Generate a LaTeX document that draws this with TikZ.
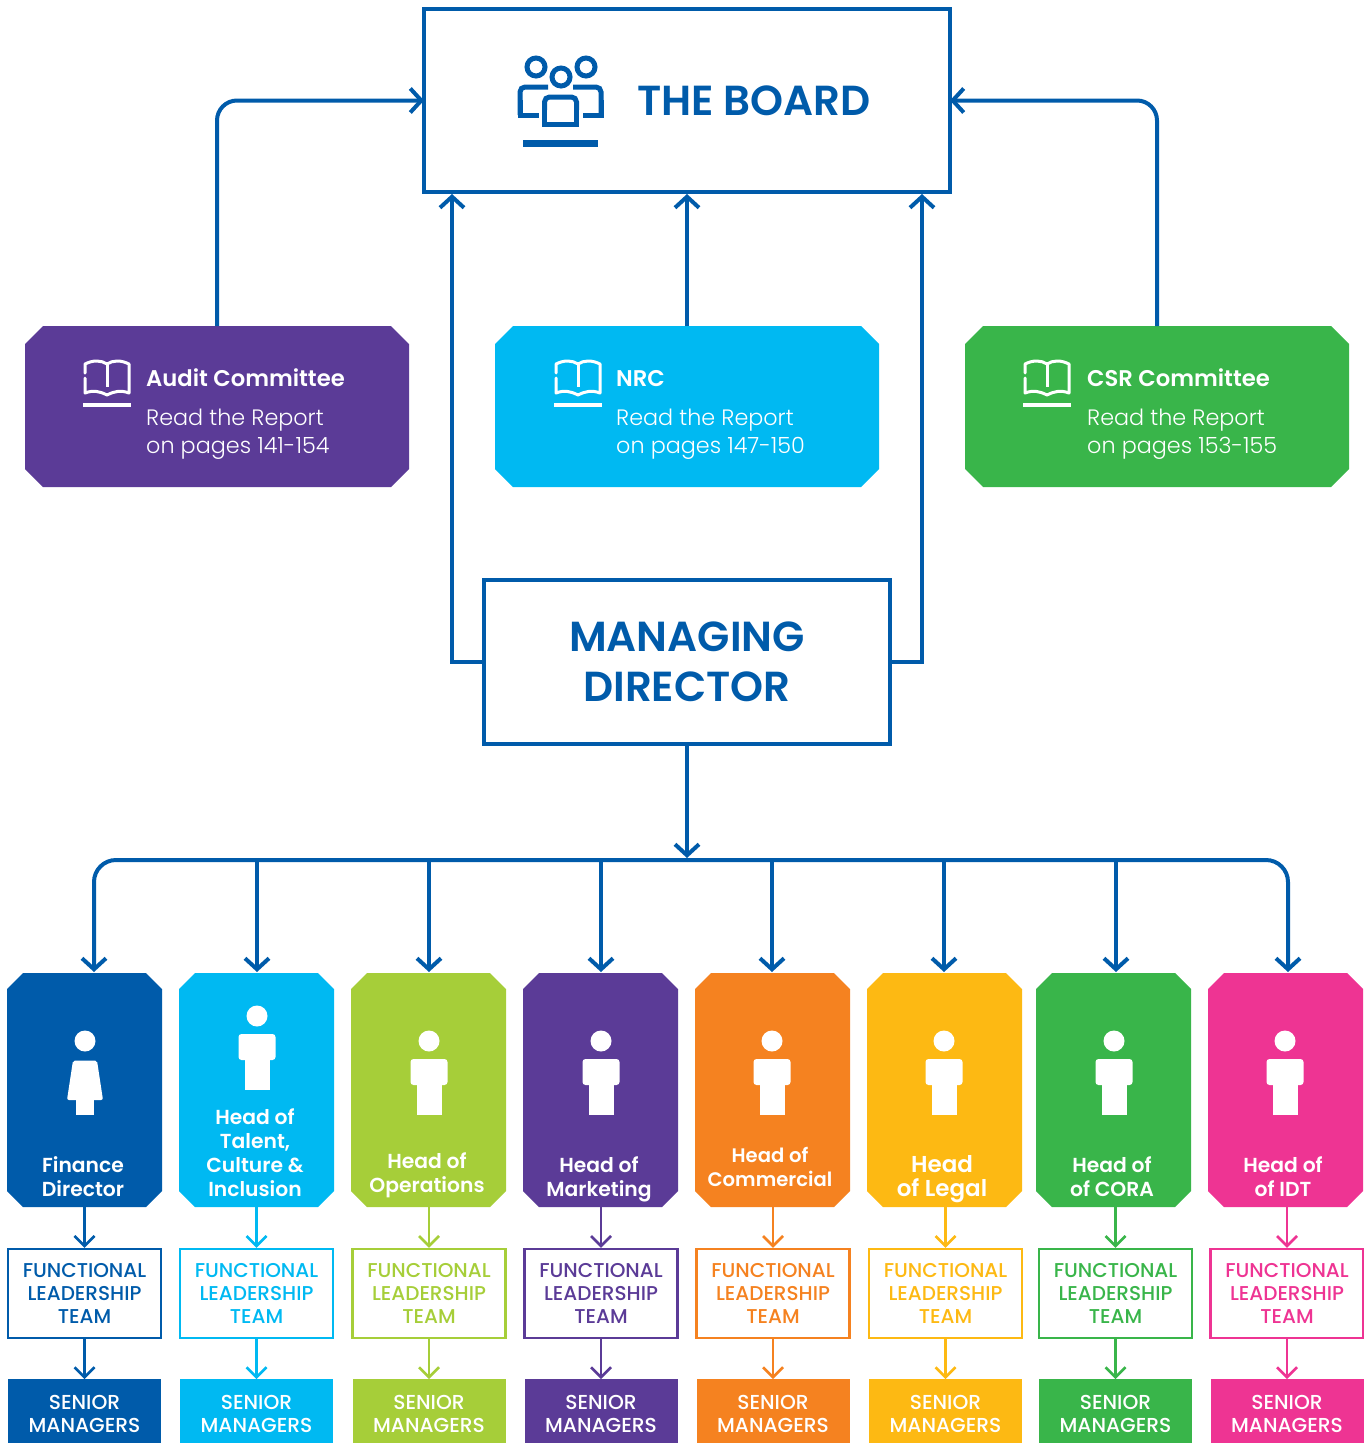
\documentclass[tikz,border=0pt]{standalone}
\usepackage{fontspec}
\setmainfont{Poppins}
\newfontfamily\lightfont{Poppins Light}
\newfontfamily\mediumfont{Poppins Medium}
\newfontfamily\semifont{Poppins SemiBold}
\usetikzlibrary{arrows.meta}
\definecolor{bdblue}{HTML}{005BAA}
\definecolor{bdcyan}{HTML}{00B9F2}
\definecolor{bdlime}{HTML}{A6CE39}
\definecolor{bdpurple}{HTML}{5B3B97}
\definecolor{bdorange}{HTML}{F58220}
\definecolor{bdyellow}{HTML}{FDB913}
\definecolor{bdgreen}{HTML}{39B54A}
\definecolor{bdpink}{HTML}{EE3493}
\newcommand{\chamferfill}[3]{\fill[#3] ([xshift=#2pt]#1.north west) -- ([xshift=-#2pt]#1.north east) -- ([yshift=-#2pt]#1.north east) -- ([yshift=#2pt]#1.south east) -- ([xshift=-#2pt]#1.south east) -- ([xshift=#2pt]#1.south west) -- ([yshift=#2pt]#1.south west) -- ([yshift=-#2pt]#1.north west) -- cycle;}
\tikzset{mainbox/.style = {draw=bdblue, rectangle, line width=4pt, inner sep=0pt}}
\tikzset{maintext/.style = {text=bdblue, font=\fontsize{42}{50}\selectfont\semifont, align=center, inner sep=0pt}}
\tikzset{committee/.style = {rectangle, minimum width=384pt, minimum height=161pt, inner sep=0pt, outer sep=0pt}}
\tikzset{headbox/.style = {rectangle, minimum width=155pt, minimum height=234pt, inner sep=0pt, outer sep=0pt}}
\tikzset{teambox/.style = {draw, rectangle, line width=2.5pt, minimum width=153pt, minimum height=89pt, inner sep=0pt, align=center, font=\fontsize{20}{23}\selectfont\mediumfont}}
\tikzset{managers/.style = {rectangle, minimum width=153pt, minimum height=64pt, inner sep=0pt, outer sep=0pt}}
\tikzset{mgrtext/.style = {text=white, align=center, inner sep=0pt, font=\fontsize{20.2}{23}\selectfont\mediumfont}}
\tikzset{headtext/.style = {text=white, anchor=base, inner sep=0pt, align=center}}
\tikzset{commtitle/.style = {text=white, anchor=base west, inner sep=0pt, font=\fontsize{22.7}{27}\selectfont\semifont}}
\tikzset{commtext/.style = {text=white, anchor=base west, inner sep=0pt, font=\fontsize{22.3}{27}\selectfont\lightfont}}
\tikzset{flow/.style = {draw=bdblue, line width=4pt, -{Straight Barb[length=11pt, width=24pt]}}}
\tikzset{down/.style = {line width=2.5pt, -{Straight Barb[length=10pt, width=20pt]}}}
\tikzset{book/.pic = {
  \draw[white, line width=3pt, line cap=round, line join=round] (-22,-5) -- (-22,-14) .. controls (-14,-18) and (-6,-18) .. (0,-14) .. controls (6,-18) and (14,-18) .. (22,-14) -- (22,15) .. controls (14,12) and (8,13) .. (0,17) .. controls (-8,13) and (-14,12) .. (-22,15) -- (-22,0);
  \draw[white, line width=3pt] (0,-14) -- (0,9);
  \fill[white] (-24,25) rectangle (24,29);
}}
\tikzset{man/.pic = {
  \fill[white] (0,0) circle (10.5);
  \fill[white, rounded corners=3pt] (-18.5,18) -- (18.5,18) -- (18.5,44) -- (-18.5,44) -- cycle;
  \fill[white] (-12.5,30) rectangle (12.5,74);
}}
\tikzset{woman/.pic = {
  \fill[white] (0,0) circle (10.5);
  \fill[white, rounded corners=2pt] (-12,19.5) -- (12,19.5) -- (18,59) -- (-18,59) -- cycle;
  \fill[white] (-9,50) rectangle (9,74);
}}

\begin{document}
\begin{tikzpicture}[x=1pt, y=-1pt]
  \useasboundingbox (0,0) rectangle (1364,1443);

  \node [mainbox, outer sep=0pt, minimum width=526pt, minimum height=183pt] (board) at (687,100.5) {};
  \node [maintext, anchor=base west] (boardtext) at (637,115) {THE BOARD};
  \draw[bdblue, line width=5pt] (536,67) circle (9) (586,67) circle (9) (561,77) circle (9);
  \draw[bdblue, line width=5pt, rounded corners=5pt] (548,87) -- (520,87) -- (520,115);
  \draw[bdblue, line width=5pt] (520,100) -- (520,115) -- (539,115);
  \draw[bdblue, line width=5pt, rounded corners=5pt] (573,87) -- (601,87) -- (601,115);
  \draw[bdblue, line width=5pt] (601,100) -- (601,115) -- (583,115);
  \draw[bdblue, line width=5pt, rounded corners=5pt] (544.5,110) -- (544.5,97) -- (576.5,97) -- (576.5,110);
  \draw[bdblue, line width=5pt] (544.5,105) -- (544.5,124.5) -- (576.5,124.5) -- (576.5,105);
  \fill[bdblue] (523,140) rectangle (598,147);

  \node [committee] (audit) at (217,406.5) {};
  \node [committee] (nrc) at (687,406.5) {};
  \node [committee] (csr) at (1157,406.5) {};
  \chamferfill{audit}{18}{bdpurple}
  \chamferfill{nrc}{18}{bdcyan}
  \chamferfill{csr}{18}{bdgreen}
  \pic at (107,378) {book};
  \pic at (578,378) {book};
  \pic at (1047,378) {book};
  \node [commtitle] (audittitle) at (146,386) {Audit Committee};
  \node [commtext] (audittext) at (146,425.5) {Read the Report};
  \node [commtext] (auditpages) at (146,453) {on pages 141-154};
  \node [commtitle] (nrctitle) at (616,386) {NRC};
  \node [commtext] (nrctext) at (616,425.5) {Read the Report};
  \node [commtext] (nrcpages) at (616,453) {on pages 147-150};
  \node [commtitle] (csrtitle) at (1087,386) {CSR Committee};
  \node [commtext] (csrtext) at (1087,425.5) {Read the Report};
  \node [commtext] (csrpages) at (1087,453) {on pages 153-155};

  \node [mainbox, minimum width=406pt, minimum height=164pt] (md) at (687,662) {};
  \node [maintext] (mdtext) at (687,662) {MANAGING\\DIRECTOR};

  \coordinate (boardl) at (452,194);
  \coordinate (boardm) at (687,194);
  \coordinate (boardr) at (922,194);
  \coordinate (split) at (687,858);
  \coordinate (hub) at (687,860);
  \draw[flow, rounded corners=20pt] (audit.north) |- (board.west);
  \draw[flow, rounded corners=20pt] (csr.north) |- (board.east);
  \draw[flow] (nrc.north) -- (boardm);
  \draw[flow] (md.west) -| (boardl);
  \draw[flow] (md.east) -| (boardr);
  \draw[flow] (md.south) -- (split);

  \foreach \i/\cx/\bx/\fx/\col/\tx/\ty/\fs/\lab in {
    1/84.5/94/84.5/bdblue/83/1196/20.3/{Finance\\Director},
    2/256.5/257/256.5/bdcyan/255/1196/20.3/{Head of\\Talent,\\Culture \&\\Inclusion},
    3/428.5/429/429/bdlime/427/1192/20.3/{Head of\\Operations},
    4/600.5/601/601/bdpurple/599/1196/20.3/{Head of\\Marketing},
    5/772.5/772/773/bdorange/770/1186/19.6/{Head of\\Commercial},
    6/944.5/944/945.5/bdyellow/942/1196/23/{Head\\of Legal},
    7/1113.5/1116/1115.5/bdgreen/1112/1196/20.3/{Head of\\of CORA},
    8/1285.5/1288/1287/bdpink/1283/1196/20.3/{Head of\\of IDT}} {
    \node [headbox] (head\i) at (\cx,1090) {};
    \chamferfill{head\i}{16}{\col}
    \node [teambox, draw=\col, text=\col] (team\i) at (\fx,1293.5) {FUNCTIONAL\\LEADERSHIP\\TEAM};
    \node [managers, fill=\col] (mgr\i) at (\fx,1411) {};
    \node [mgrtext] (mgrtext\i) at (\fx,1414) {SENIOR\\MANAGERS};
    \node [headtext, font=\fontsize{\fs}{24}\selectfont\semifont] (headtext\i) at (\tx,\ty) {\lab};
    \coordinate (bus\i) at (\bx,860);
    \coordinate (headtop\i) at (\bx,972);
    \draw[down, draw=\col] (head\i.south -| team\i.north) -- (team\i.north);
    \draw[down, draw=\col] (team\i.south) -- (mgr\i.north);
  }
  \foreach \i in {2,...,7} {
    \draw[flow] (bus\i) -- (headtop\i);
  }
  \draw[flow, rounded corners=22pt] (hub) -| (headtop1);
  \draw[flow, rounded corners=22pt] (hub) -| (headtop8);
  \pic at (85,1041) {woman};
  \pic at (257,1016) {man};
  \foreach \px/\name in {429/ops, 601/mkt, 772/com, 944/leg, 1114/cor, 1285/idt} {
    \pic (\name) at (\px,1041) {man};
  }
\end{tikzpicture}
\end{document}
